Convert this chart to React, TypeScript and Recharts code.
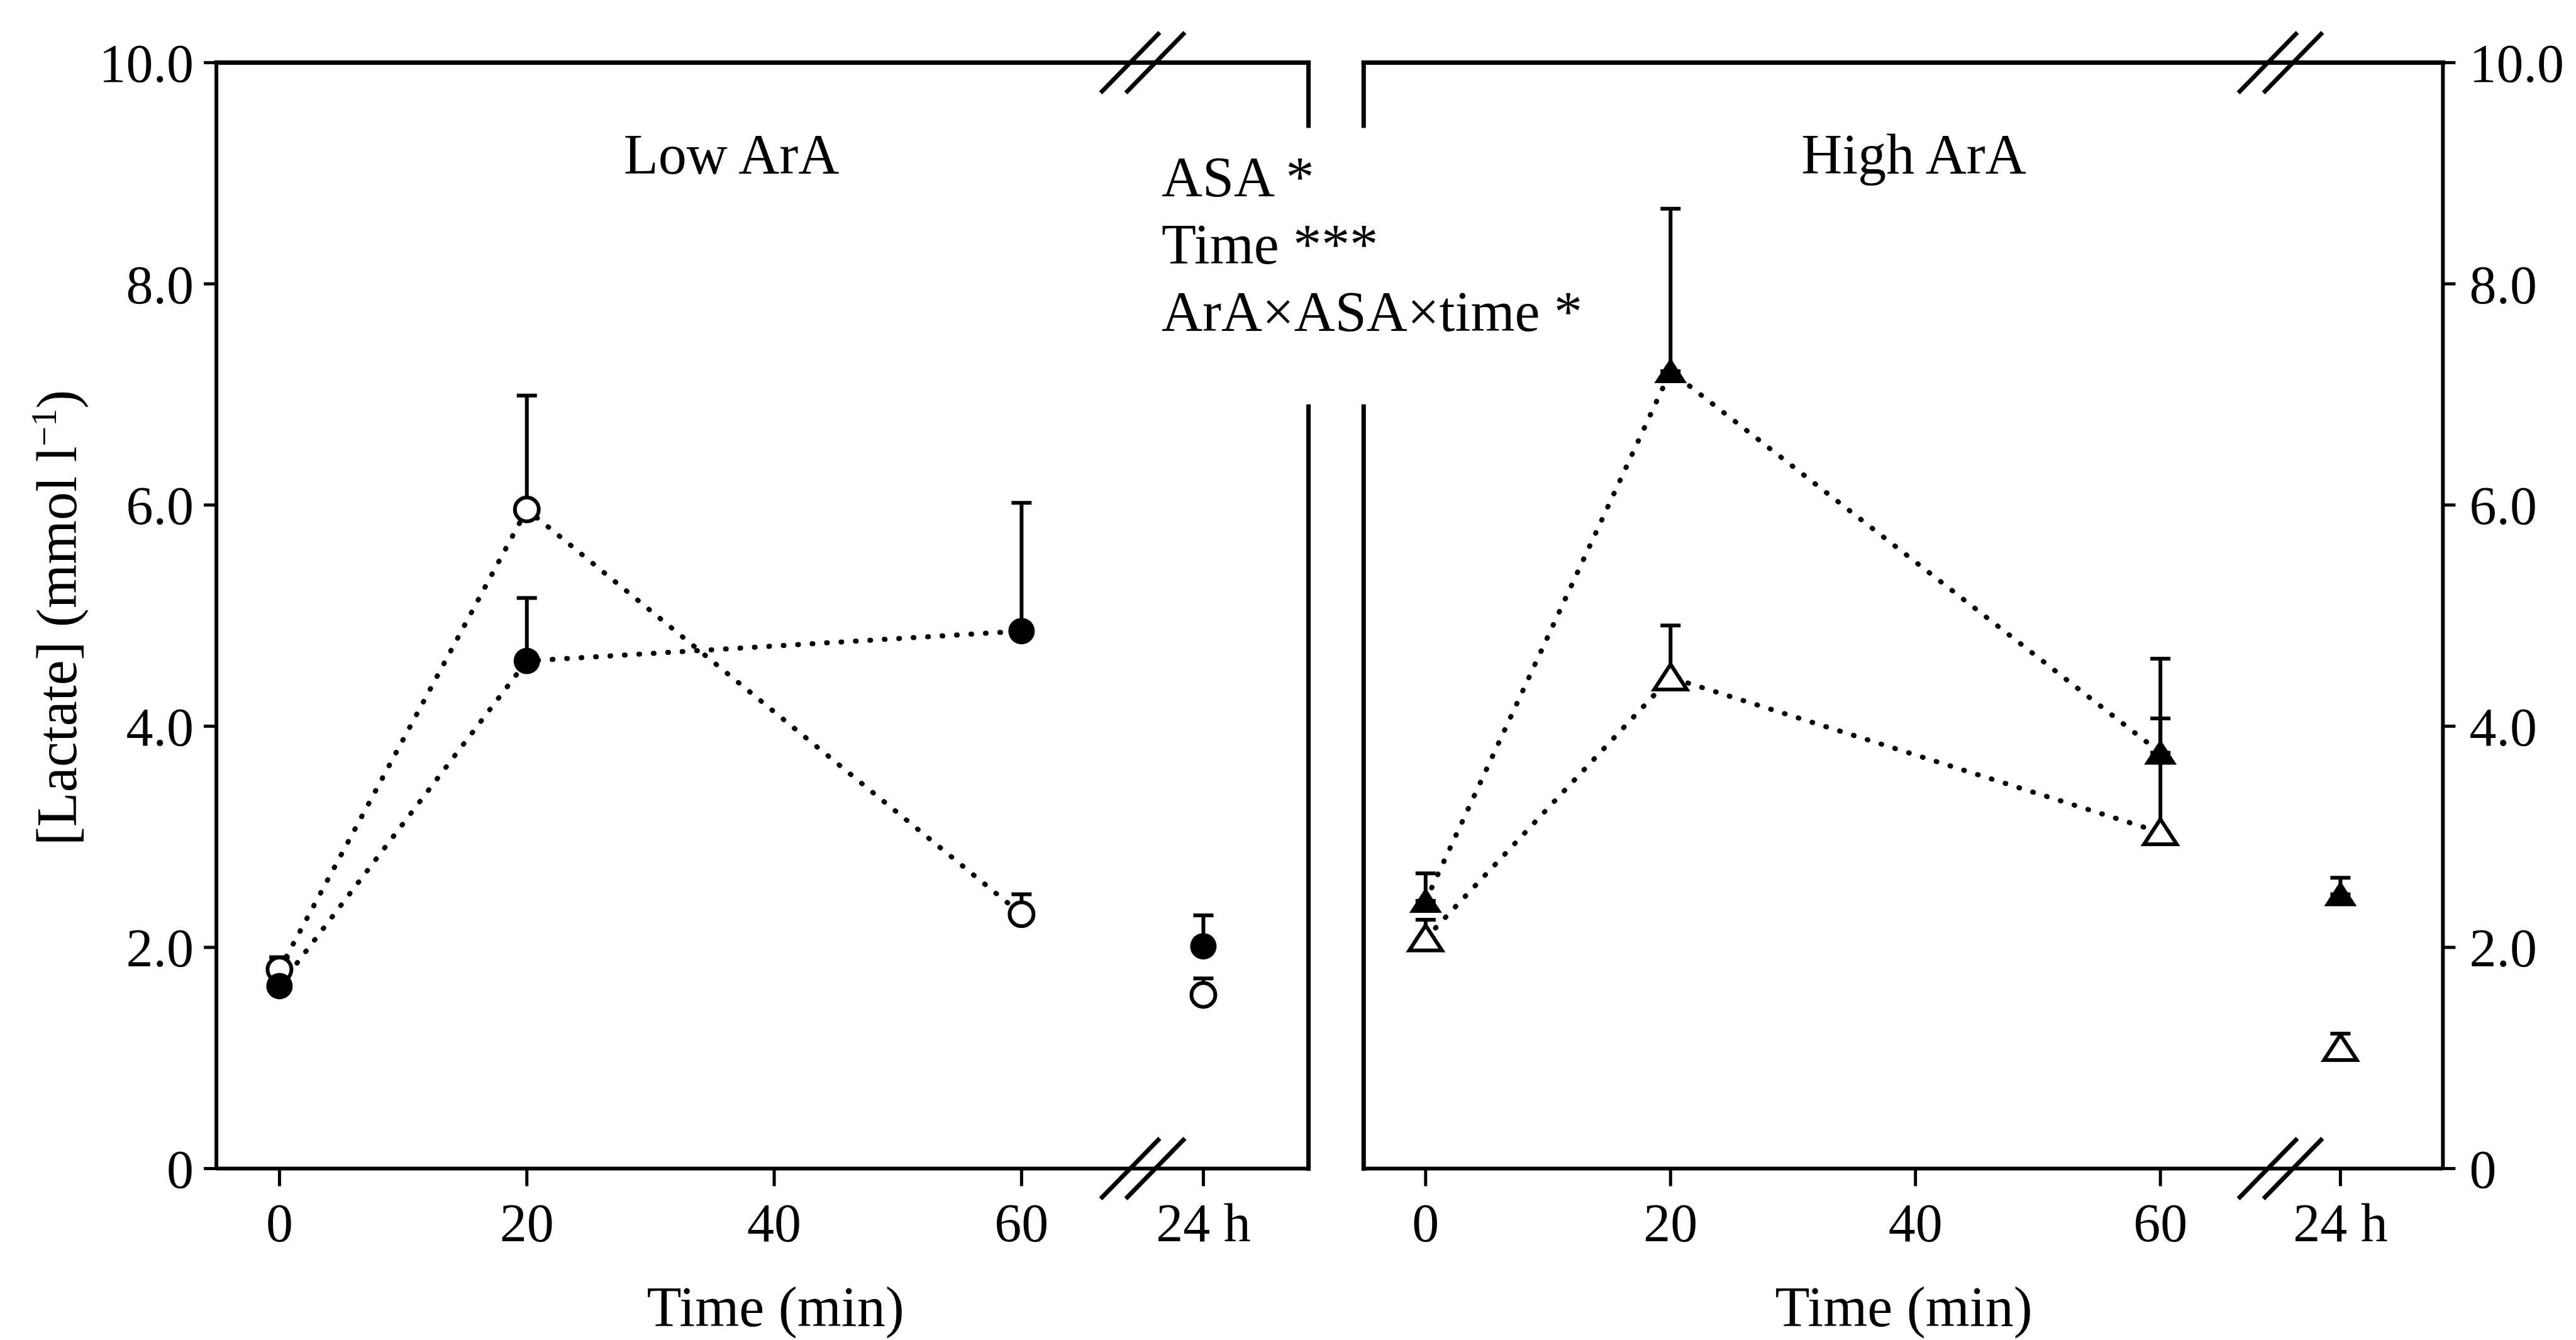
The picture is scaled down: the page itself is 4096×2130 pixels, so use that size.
import React from 'react';
import {
  ComposedChart,
  Line,
  Scatter,
  XAxis,
  YAxis,
  ErrorBar,
  ReferenceLine,
  ReferenceDot,
  Customized,
} from 'recharts';

const W = 4096;
const H = 2130;
const FONT = '"Liberation Serif", "Times New Roman", serif';

// x positions in minutes; the 24 h sample sits after the axis break
const tickPositions = [0, 20, 40, 60, 74.7];
const tickLabels = ['0', '20', '40', '60', '24 h'];
const sampleTimes = [0, 20, 60, 74.7];
const yTicks = [0, 2, 4, 6, 8, 10];

// Low ArA panel (circles)
const lowFilled = [1.65, 4.59, 4.86, 2.01];
const lowFilledErr = [0.26, 0.57, 1.16, 0.28];
const lowOpen = [1.8, 5.96, 2.3, 1.57];
const lowOpenErr = [0.11, 1.03, 0.18, 0.15];

// High ArA panel (triangles)
const highFilled = [2.42, 7.21, 3.76, 2.48];
const highFilledErr = [0.25, 1.47, 0.85, 0.15];
const highOpen = [2.08, 4.44, 3.04, 1.09];
const highOpenErr = [0.17, 0.47, 1.03, 0.13];

const statsLines = ['ASA *', 'Time ***', 'ArA×ASA×time *'];

const BREAK_AT = 69.8;
const GAP_TOP = 9.43;
const GAP_BOTTOM = 6.89;

const toPoints = (vals: number[], errs: number[]) =>
  sampleTimes.map((t, i) => ({ t, v: vals[i], err: [0, errs[i]] }));

const fmtY = (v: number) => (v === 0 ? '0' : v.toFixed(1));
const fmtX = (v: number) => tickLabels[tickPositions.indexOf(v)] ?? '';

const FilledCircle = (p: any) => <circle cx={p.cx} cy={p.cy} r={21} fill="#000" />;
const OpenCircle = (p: any) => (
  <circle cx={p.cx} cy={p.cy} r={19} fill="#fff" stroke="#000" strokeWidth={6} />
);
const tri = (cx: number, cy: number) =>
  `${cx},${cy - 21} ${cx + 26},${cy + 19} ${cx - 26},${cy + 19}`;
const FilledTriangle = (p: any) => <polygon points={tri(p.cx, p.cy)} fill="#000" />;
const OpenTriangle = (p: any) => (
  <polygon points={tri(p.cx, p.cy)} fill="#fff" stroke="#000" strokeWidth={6} />
);

const BreakMark = (p: any) => {
  const { cx, cy } = p;
  return (
    <g stroke="#000" strokeWidth={7}>
      <line x1={cx - 67} y1={cy + 48} x2={cx + 27} y2={cy - 48} />
      <line x1={cx - 27} y1={cy + 48} x2={cx + 67} y2={cy - 48} />
    </g>
  );
};

const axisLine = { stroke: '#000', strokeWidth: 6 };
const tickLine = { stroke: '#000', strokeWidth: 5 };
const tickStyle = { fill: '#000', fontSize: 86, fontFamily: FONT };
const frame = { stroke: '#000', strokeWidth: 7, strokeLinecap: 'square' as const, ifOverflow: 'visible' as const };

const LeftNotes = () => (
  <g fontFamily={FONT} fill="#000">
    <text x={1163} y={276} fontSize={90} textAnchor="middle">Low ArA</text>
    {statsLines.map((s, i) => (
      <text key={s} x={1847} y={312 + i * 107} fontSize={90}>{s}</text>
    ))}
    <text transform="translate(121 982) rotate(-90)" textAnchor="middle" fontSize={90}>
      [Lactate] (mmol l<tspan dy={-32} fontSize={56}>−1</tspan>
      <tspan dy={32}>)</tspan>
    </text>
    <text x={1233} y={2108} fontSize={90} textAnchor="middle">Time (min)</text>
  </g>
);

const RightNotes = () => (
  <g fontFamily={FONT} fill="#000">
    <text x={3043} y={276} fontSize={90} textAnchor="middle">High ArA</text>
    <text x={3027} y={2108} fontSize={90} textAnchor="middle">Time (min)</text>
  </g>
);

type PanelProps = {
  side: 'left' | 'right';
  domain: [number, number];
  filled: { t: number; v: number; err: number[] }[];
  open: { t: number; v: number; err: number[] }[];
  filledShape: any;
  openShape: any;
};

const Panel = ({ side, domain, filled, open, filledShape, openShape }: PanelProps) => {
  const isLeft = side === 'left';
  const innerEdge = isLeft ? domain[1] : domain[0];
  const margin = isLeft
    ? { top: 99.6, right: W - 2080.6, bottom: 0, left: 0 }
    : { top: 99.6, right: 0, bottom: 0, left: 2168.3 };
  return (
    <ComposedChart width={W} height={H} margin={margin}>
      <XAxis
        type="number"
        dataKey="t"
        domain={domain}
        ticks={tickPositions}
        tickFormatter={fmtX}
        interval={0}
        allowDataOverflow
        height={272.5}
        tickSize={28}
        tickMargin={26}
        axisLine={axisLine}
        tickLine={tickLine}
        tick={tickStyle}
      />
      <YAxis
        orientation={side}
        domain={[0, 10]}
        ticks={yTicks}
        tickFormatter={fmtY}
        interval={0}
        allowDataOverflow
        width={isLeft ? 344.1 : W - 3884.4}
        tickSize={20}
        tickMargin={isLeft ? 16 : 22}
        axisLine={axisLine}
        tickLine={tickLine}
        tick={tickStyle}
      />
      <ReferenceLine y={10} {...frame} />
      <ReferenceLine segment={[{ x: innerEdge, y: 10 }, { x: innerEdge, y: GAP_TOP }]} {...frame} />
      <ReferenceLine segment={[{ x: innerEdge, y: GAP_BOTTOM }, { x: innerEdge, y: 0 }]} {...frame} />
      <ReferenceDot x={BREAK_AT} y={10} r={1} shape={BreakMark} ifOverflow="visible" />
      <ReferenceDot x={BREAK_AT} y={0} r={1} shape={BreakMark} ifOverflow="visible" />
      <Line
        data={open.slice(0, 3)}
        dataKey="v"
        type="linear"
        stroke="#000"
        strokeWidth={8}
        strokeDasharray="1 22"
        strokeLinecap="round"
        dot={false}
        activeDot={false}
        isAnimationActive={false}
      />
      <Line
        data={filled.slice(0, 3)}
        dataKey="v"
        type="linear"
        stroke="#000"
        strokeWidth={8}
        strokeDasharray="1 22"
        strokeLinecap="round"
        dot={false}
        activeDot={false}
        isAnimationActive={false}
      />
      <Scatter data={open} dataKey="v" shape={openShape} isAnimationActive={false}>
        <ErrorBar dataKey="err" direction="y" width={16} stroke="#000" strokeWidth={6} />
      </Scatter>
      <Scatter data={filled} dataKey="v" shape={filledShape} isAnimationActive={false}>
        <ErrorBar dataKey="err" direction="y" width={16} stroke="#000" strokeWidth={6} />
      </Scatter>
      <Customized component={isLeft ? <LeftNotes /> : <RightNotes />} />
    </ComposedChart>
  );
};

export default function App() {
  return (
    <div style={{ position: 'absolute', left: 0, top: 0, width: W, height: H, background: '#fff', overflow: 'hidden' }}>
      <div style={{ position: 'absolute', left: 0, top: 0 }}>
        <Panel
          side="left"
          domain={[-5.1, 83.2]}
          filled={toPoints(lowFilled, lowFilledErr)}
          open={toPoints(lowOpen, lowOpenErr)}
          filledShape={FilledCircle}
          openShape={OpenCircle}
        />
      </div>
      <div style={{ position: 'absolute', left: 0, top: 0 }}>
        <Panel
          side="right"
          domain={[-5.06, 83.07]}
          filled={toPoints(highFilled, highFilledErr)}
          open={toPoints(highOpen, highOpenErr)}
          filledShape={FilledTriangle}
          openShape={OpenTriangle}
        />
      </div>
    </div>
  );
}
